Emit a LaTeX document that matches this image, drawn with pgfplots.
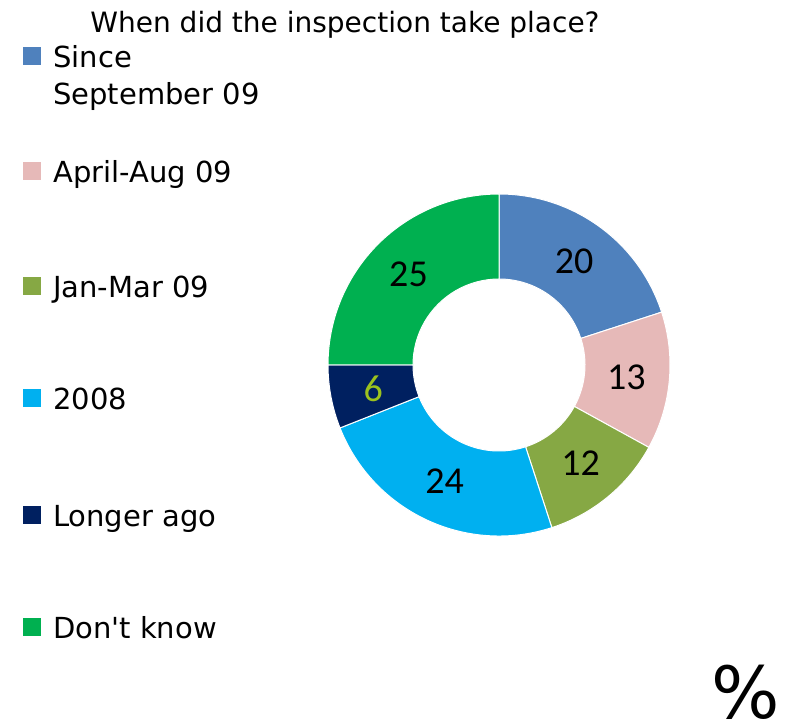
\documentclass[border=0pt]{standalone}
\usepackage{pgfplots}
\usepackage{pgfplotstable}
\pgfplotsset{compat=1.18}
\usepackage{fontspec}
\setmainfont{DejaVu Sans}
\newfontfamily\numfont{Carlito}
\definecolor{slice0}{HTML}{4F81BD}
\definecolor{slice1}{HTML}{E6B9B8}
\definecolor{slice2}{HTML}{86A844}
\definecolor{slice3}{HTML}{00B0F0}
\definecolor{slice4}{HTML}{002060}
\definecolor{slice5}{HTML}{00B050}
\definecolor{lab0}{HTML}{000000}
\definecolor{lab1}{HTML}{000000}
\definecolor{lab2}{HTML}{000000}
\definecolor{lab3}{HTML}{000000}
\definecolor{lab4}{HTML}{9CC21E}
\definecolor{lab5}{HTML}{000000}
\pgfplotstableread[col sep=comma]{
name,value
Since September 09,20
April-Aug 09,13
Jan-Mar 09,12
2008,24
Longer ago,6
Don't know,25
}\piedata
\newcommand\legsq[2]{%
  \fill[#1] (axis cs:23,#2+3) rectangle (axis cs:41,#2+21);
}
\newcommand\legtx[2]{%
  \node[anchor=base west, font=\fontsize{29}{37}\selectfont, inner sep=0pt] at (axis cs:53,#1) {#2};
}
\begin{document}
\begin{tikzpicture}
\begin{axis}[x=1pt,y=1pt,xmin=0,xmax=789,ymin=0,ymax=725,hide axis,clip=false]
\pgfplotstablegetrowsof{\piedata}
\pgfmathtruncatemacro\N{\pgfplotsretval-1}
\def\cum{0}
\pgfplotsforeachungrouped \i in {0,...,\N}{%
  \pgfplotstablegetelem{\i}{value}\of\piedata
  \let\v\pgfplotsretval
  \pgfmathsetmacro\a{90-3.6*\cum}%
  \pgfmathsetmacro\b{90-3.6*(\cum+\v)}%
  \pgfmathsetmacro\m{(\a+\b)/2}%
  \edef\temp{\noexpand\filldraw[fill=slice\i, draw=white, line width=1pt, line join=round]
    ([shift={(\a:171pt)}]axis cs:499,360) arc[start angle=\a, end angle=\b, radius=171pt]
    -- ([shift={(\b:86pt)}]axis cs:499,360) arc[start angle=\b, end angle=\a, radius=86pt] -- cycle;
    \noexpand\node[text=lab\i, font=\noexpand\fontsize{38}{40}\noexpand\numfont] at ([shift={(\m:128pt)}]axis cs:499,360) {\v};}%
  \temp
  \pgfmathsetmacro\cum{\cum+\v}%
}
% title
\node[anchor=base, font=\fontsize{28}{30}\selectfont, inner sep=0pt] at (axis cs:345,692) {When did the inspection take place?};
% legend
\legsq{slice0}{657}\legtx{657}{Since}\legtx{620}{September 09}
\legsq{slice1}{542}\legtx{542}{April-Aug 09}
\legsq{slice2}{427}\legtx{427}{Jan-Mar 09}
\legsq{slice3}{315}\legtx{315}{2008}
\legsq{slice4}{198}\legtx{198}{Longer ago}
\legsq{slice5}{86}\legtx{86}{Don\textquotesingle t know}
\node[anchor=south, inner sep=0pt, text depth=0pt, font=\fontsize{72}{74}\selectfont] at (axis cs:746,6) {\%};
\end{axis}
\pgfresetboundingbox
\path[use as bounding box] (current axis.south west) rectangle (current axis.north east);
\end{tikzpicture}
\end{document}
